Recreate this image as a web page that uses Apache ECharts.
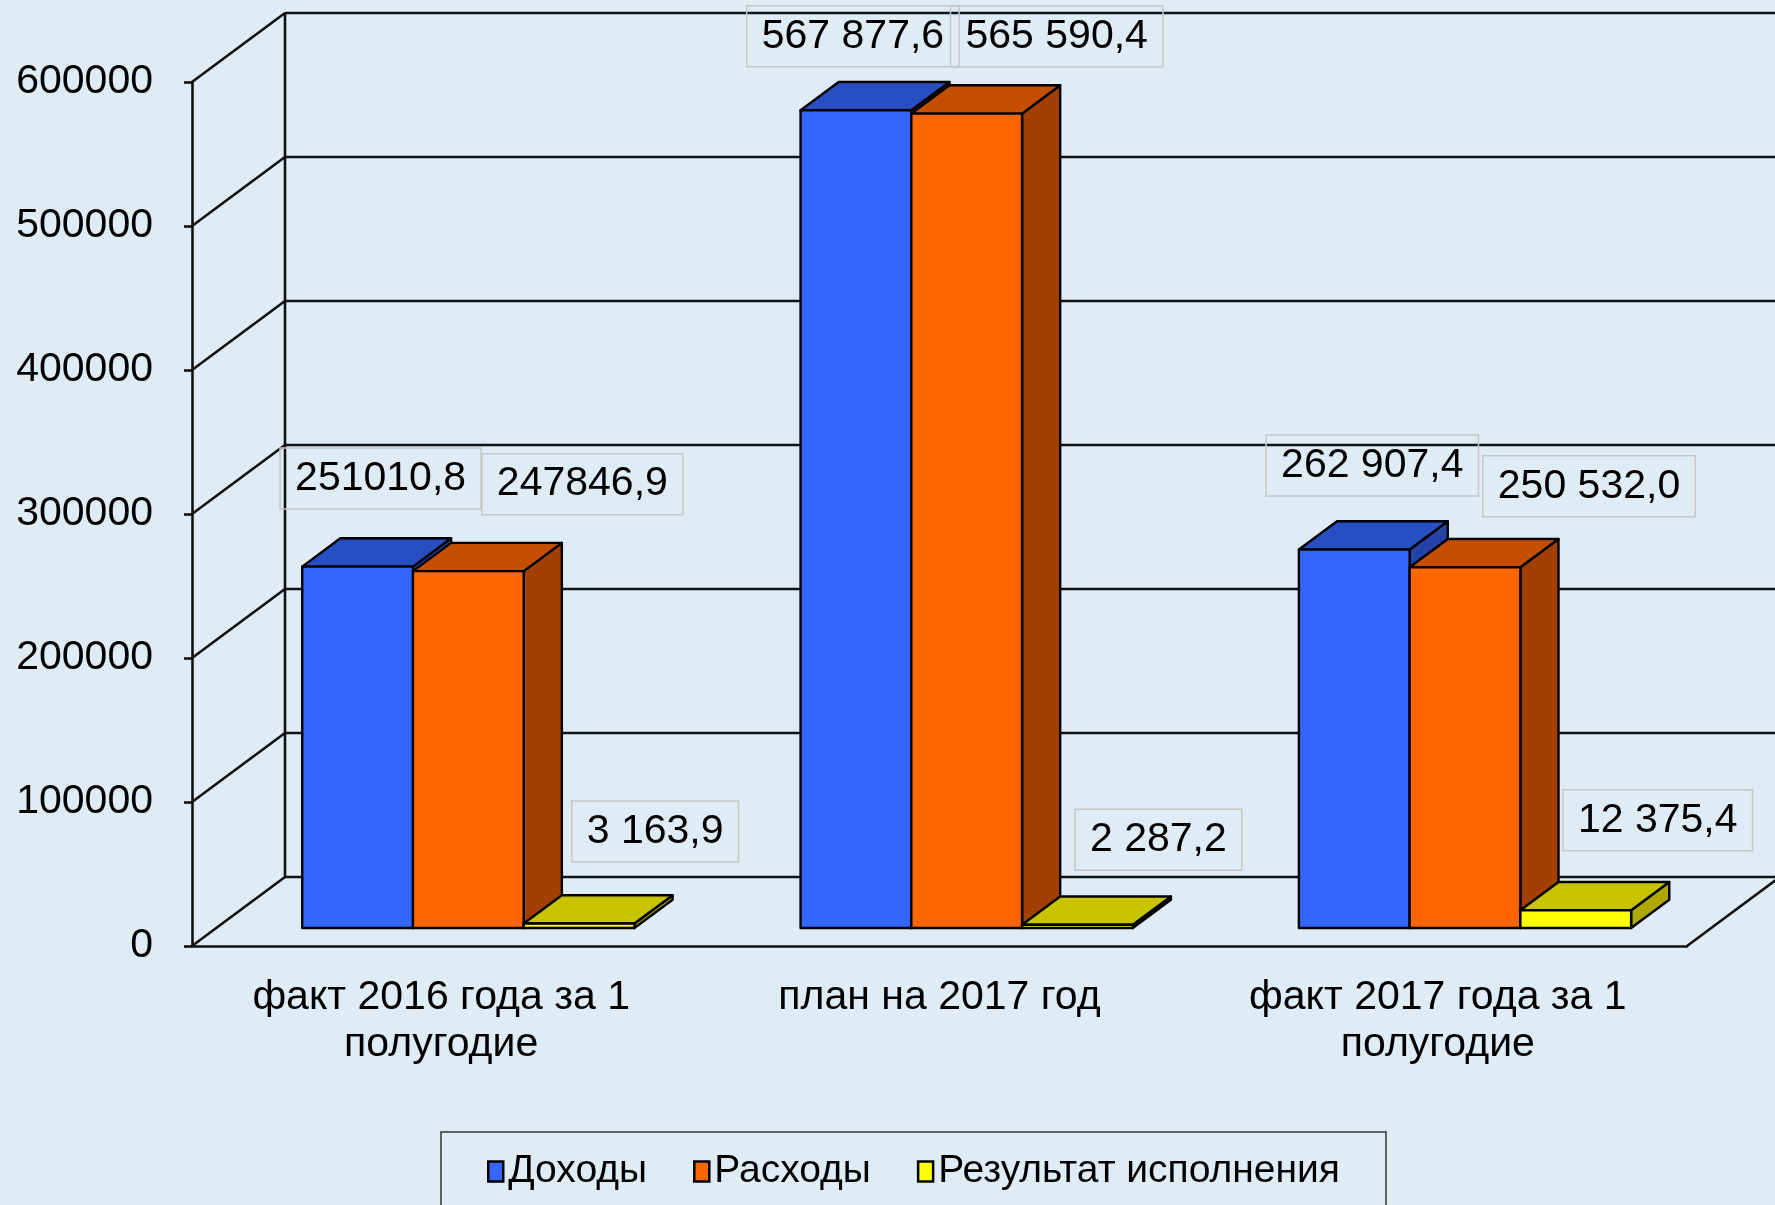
<!DOCTYPE html>
<html>
<head>
<meta charset="utf-8">
<script src="https://cdn.jsdelivr.net/npm/echarts@6/dist/echarts.min.js"></script>
<style>
  html, body { margin: 0; padding: 0; background: #dfecf6; }
  #chart { width: 1775px; height: 1205px; }
</style>
</head>
<body>
<div id="chart"></div>
<script>
// data
const categories = ['факт 2016 года за 1\nполугодие', 'план на 2017 год', 'факт 2017 года за 1\nполугодие'];
const seriesNames = ['Доходы', 'Расходы', 'Результат исполнения'];
const incomes = [251010.8, 567877.6, 262907.4];
const expenses = [247846.9, 565590.4, 250532.0];
const results = [3163.9, 2287.2, 12375.4];
const yTicks = [0, 100000, 200000, 300000, 400000, 500000, 600000];
// thousands separator used in each data label (the source is not consistent)
const labelSep = [['', ' ', ' '], ['', ' ', ' '], [' ', ' ', ' ']];

// look of the fake 3d
const DEPTH = [93, -69];   // floor depth vector, px
const FRONT = 0.26;        // where the bar front sits in the depth
const THICK = 0.41;        // bar depth
const GAP = 1.5;           // gap width in bar widths
const FONT = '"Liberation Sans", Arial, sans-serif';
const LINE = 2.6;
const colors = [
  { front: '#3366ff', top: '#284fc2', side: '#2442a8' },
  { front: '#ff6600', top: '#c44f00', side: '#a33f00' },
  { front: '#ffff00', top: '#c8c400', side: '#aea800' }
];
// label box offsets from the bar front-top centre
const labelShift = [
  [[26, -88], [0, -74], [21, -84]],
  [[117, -87], [93, -77], [127, -81]],
  [[79, -92], [84, -85], [85, -90]]
];

function fmt(v, sep) {
  const parts = v.toFixed(1).split('.');
  return parts[0].replace(/\B(?=(\d{3})+(?!\d))/g, sep) + ',' + parts[1];
}

function wallRenderer(params, api) {
  const v = api.value(1);
  const p = api.coord([0, v]);
  const cs = params.coordSys;
  const xl = cs.x, xr = cs.x + cs.width;
  const st = { stroke: '#111', lineWidth: LINE };
  const kids = [
    { type: 'line', shape: { x1: xl, y1: p[1], x2: xl + DEPTH[0], y2: p[1] + DEPTH[1] }, style: st },
    { type: 'line', shape: { x1: xl + DEPTH[0], y1: p[1] + DEPTH[1], x2: xr + DEPTH[0], y2: p[1] + DEPTH[1] }, style: st }
  ];
  if (v === yTicks[0]) {
    const t = api.coord([0, yTicks[yTicks.length - 1]]);
    kids.push({ type: 'line', shape: { x1: xl + DEPTH[0], y1: p[1] + DEPTH[1], x2: xl + DEPTH[0], y2: t[1] + DEPTH[1] }, style: st });
    kids.push({ type: 'line', shape: { x1: xr, y1: p[1], x2: xr + DEPTH[0], y2: p[1] + DEPTH[1] }, style: st });
  }
  return { type: 'group', children: kids };
}

function barRenderer(k) {
  return function (params, api) {
    const ci = api.value(0);
    const v = api.value(1);
    const base = api.coord([ci, 0]);
    const top = api.coord([ci, v]);
    const band = api.size([1, 0])[0];
    const n = seriesNames.length;
    const bw = band / (n + GAP);
    const tx = THICK * DEPTH[0], ty = THICK * DEPTH[1];
    const x0 = base[0] - bw * n / 2 + k * bw + FRONT * DEPTH[0] + 3;
    const x1 = x0 + bw;
    const yb = base[1] + FRONT * DEPTH[1];
    const yt = top[1] + FRONT * DEPTH[1];
    const c = colors[k];
    const edge = { stroke: '#000', lineWidth: 2.4, lineJoin: 'round' };
    const sh = labelShift[k][ci];
    return {
      type: 'group',
      children: [
        { type: 'polygon', shape: { points: [[x1, yt], [x1 + tx, yt + ty], [x1 + tx, yb + ty], [x1, yb]] },
          style: Object.assign({ fill: c.side }, edge) },
        { type: 'polygon', shape: { points: [[x0, yt], [x1, yt], [x1 + tx, yt + ty], [x0 + tx, yt + ty]] },
          style: Object.assign({ fill: c.top }, edge) },
        { type: 'rect', shape: { x: x0, y: yt, width: bw, height: yb - yt },
          style: Object.assign({ fill: c.front }, edge) },
        { type: 'text', z2: 100,
          style: {
            text: fmt(v, labelSep[k][ci]),
            x: (x0 + x1) / 2 + sh[0] - 3, y: yt + sh[1],
            align: 'center', verticalAlign: 'middle',
            fill: '#000', fontSize: 41, fontFamily: FONT, lineHeight: 41,
            borderColor: '#c6c6c6', borderWidth: 1.5, padding: [10, 15]
          } }
      ]
    };
  };
}

const seriesValues = [incomes, expenses, results];

const chart = echarts.init(document.getElementById('chart'));
chart.setOption({
  animation: false,
  backgroundColor: '#dfecf6',
  grid: { left: 192, right: 88, top: 82, bottom: 259 },
  xAxis: {
    type: 'category',
    data: categories,
    axisLine: { lineStyle: { color: '#111', width: LINE } },
    axisTick: { length: 11, lineStyle: { color: '#111', width: LINE } },
    axisLabel: { color: '#000', fontSize: 41, fontFamily: FONT, lineHeight: 47, margin: 28 }
  },
  yAxis: {
    type: 'value',
    min: 0, max: 600000, interval: 100000,
    axisLine: { show: true, lineStyle: { color: '#111', width: LINE } },
    axisTick: { show: true, length: 8, lineStyle: { color: '#111', width: LINE } },
    splitLine: { show: false },
    axisLabel: { color: '#000', fontSize: 41, fontFamily: FONT, margin: 39, formatter: v => String(v) }
  },
  legend: {
    data: seriesNames,
    left: 441, top: 1132,
    icon: 'rect',
    itemWidth: 15, itemHeight: 20, itemGap: 46,
    padding: [20, 46, 40, 46],
    borderColor: '#333', borderWidth: 1.5,
    itemStyle: { borderColor: '#000', borderWidth: 2.5 },
    textStyle: { color: '#000', fontSize: 39, fontFamily: FONT }
  },
  series: [
    {
      type: 'custom', name: 'walls', z: 1,
      renderItem: wallRenderer,
      encode: { x: 0, y: 1 },
      data: yTicks.map(v => [0, v]),
      silent: true
    }
  ].concat(seriesNames.map((name, k) => ({
    type: 'custom', name: name, z: 2,
    renderItem: barRenderer(k),
    itemStyle: { color: colors[k].front },
    encode: { x: 0, y: 1 },
    data: seriesValues[k].map((v, i) => [i, v])
  })))
});
</script>
</body>
</html>
